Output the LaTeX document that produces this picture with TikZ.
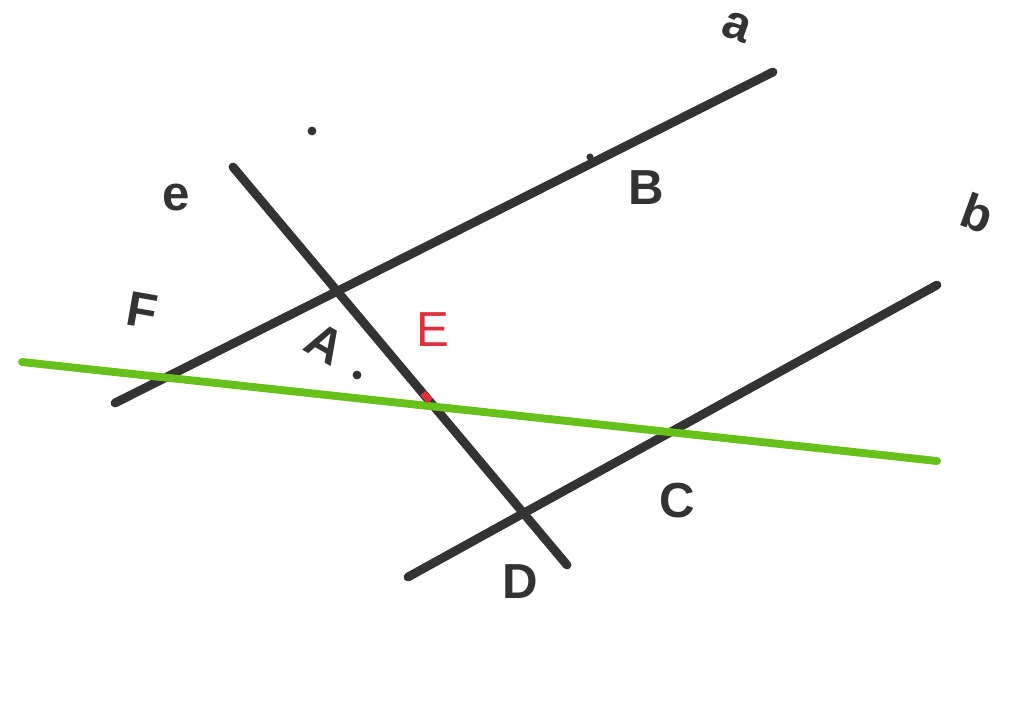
\documentclass[tikz,border=0pt]{standalone}
\usepackage{fontspec}
\setmainfont{Liberation Sans}
\definecolor{ink}{HTML}{333333}
\definecolor{grn}{HTML}{66C21A}
\definecolor{redink}{HTML}{E0303A}
\begin{document}
\begin{tikzpicture}[x=0.02cm,y=-0.02cm,
  stroke/.style={draw=ink,line width=5pt,line cap=round},
  greenline/.style={draw=grn,line width=4.5pt,line cap=round},
  lbl/.style={text=ink,font=\fontsize{28}{30}\selectfont\bfseries,inner sep=0pt},
  dotmark/.style={circle,fill=ink,inner sep=0pt,minimum size=5pt}]
\useasboundingbox (0,0) rectangle (1024,701);
% line endpoints
\coordinate (a1) at (115,403);
\coordinate (a2) at (773,72);
\coordinate (b1) at (408,577);
\coordinate (b2) at (937,285);
\coordinate (e1) at (233,167);
\coordinate (e2) at (567,565);
\coordinate (g1) at (22,362);
\coordinate (g2) at (937,461);
% lines
\draw[stroke] (a1) -- (a2);
\draw[stroke] (b1) -- (b2);
\draw[stroke] (e1) -- (e2);
\draw[greenline] (g1) -- (g2);
% small red mark at E on line e
\coordinate (r1) at (423,393);
\coordinate (r2) at (430,401);
\draw[draw=redink,line width=4pt] (r1) -- (r2);
% labels
\node[lbl,rotate=-20] (la) at (737,27) {a};
\node[lbl,rotate=-20] (lb) at (978,213) {b};
\node[lbl] (le) at (176,197) {e};
\node[lbl,rotate=-10] (lF) at (142,310) {F};
\node[lbl,rotate=-30] (lA) at (325,344) {A};
\node[lbl,text=redink,font=\fontsize{28}{30}\selectfont] (lE) at (433,330) {E};
\node[lbl] (lB) at (646,188) {B};
\node[lbl] (lC) at (677,501) {C};
\node[lbl] (lD) at (520,582) {D};
% dots
\node[dotmark] (d1) at (312,131) {};
\node[dotmark] (d2) at (357,375) {};
\node[dotmark,minimum size=4pt] (d3) at (590,157) {};
\end{tikzpicture}
\end{document}
